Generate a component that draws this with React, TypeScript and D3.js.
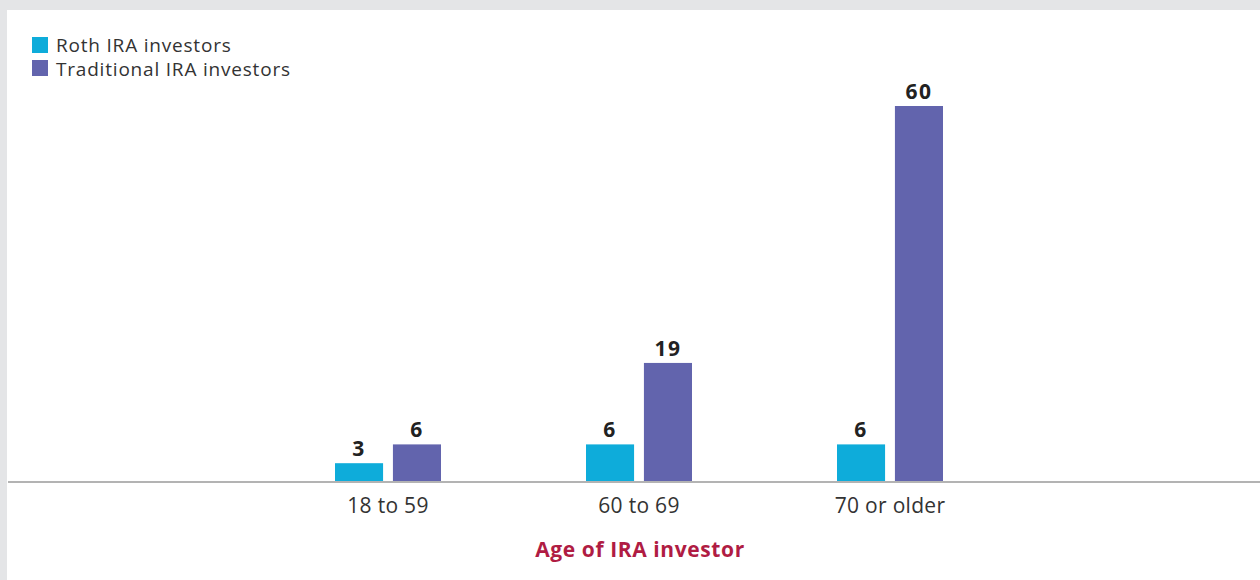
import React from "react";
import * as d3 from "d3";

const categories = ["18 to 59", "60 to 69", "70 or older"];
const seriesNames = ["Roth IRA investors", "Traditional IRA investors"];
const rothValues = [3, 6, 6];
const traditionalValues = [6, 19, 60];
const colors = ["#0eacda", "#6264ad"];
const axisTitle = "Age of IRA investor";

const W = 1260;
const H = 580;
const FONT = "'Open Sans', sans-serif";

export default function App() {
  const baseline = 482;
  const y = d3.scaleLinear().domain([0, 60]).range([baseline, 106]);
  const x0 = d3.scaleBand<string>().domain(categories).range([262.5, 1015.5]).padding(0);
  const x1 = d3.scaleBand<string>().domain(seriesNames).range([0, 106]).paddingInner(0.17);
  const groupOffset = (x0.bandwidth() - 106) / 2;
  const seriesValues = [rothValues, traditionalValues];

  return (
    <svg
      width={W}
      height={H}
      style={{ position: "absolute", left: 0, top: 0, display: "block" }}
      xmlns="http://www.w3.org/2000/svg"
    >
      <rect x={0} y={0} width={W} height={H} fill="#e4e5e7" />
      <rect x={7} y={10} width={W - 7} height={H - 10} fill="#ffffff" />

      {/* legend */}
      {seriesNames.map((s, i) => (
        <g key={s}>
          <rect x={32} y={37 + i * 23} width={16} height={16} fill={colors[i]} />
          <text x={56} y={51.5 + i * 24} fontFamily={FONT} fontSize={19} fill="#333" letterSpacing={0.8}>
            {s}
          </text>
        </g>
      ))}

      {/* bars */}
      {categories.map((c, ci) => (
        <g key={c} transform={`translate(${(x0(c) ?? 0) + groupOffset},0)`}>
          {seriesNames.map((s, si) => {
            const v = seriesValues[si][ci];
            const bx = x1(s) ?? 0;
            return (
              <g key={s}>
                <rect x={bx} y={y(v)} width={x1.bandwidth()} height={baseline - y(v)} fill={colors[si]} />
                <text
                  x={bx + x1.bandwidth() / 2}
                  y={y(v) - 7}
                  textAnchor="middle"
                  fontFamily={FONT}
                  fontWeight={700}
                  fontSize={21}
                  fill="#222"
                  letterSpacing={1.5}
                >
                  {v}
                </text>
              </g>
            );
          })}
        </g>
      ))}

      {/* baseline */}
      <line x1={8} x2={W} y1={baseline} y2={baseline} stroke="#b3b3b3" strokeWidth={2} />

      {/* category labels */}
      {categories.map((c) => (
        <text
          key={c}
          x={(x0(c) ?? 0) + x0.bandwidth() / 2}
          y={513}
          textAnchor="middle"
          fontFamily={FONT}
          fontSize={21}
          fill="#333"
          letterSpacing={0.3}
        >
          {c}
        </text>
      ))}

      <text
        x={640}
        y={557}
        textAnchor="middle"
        fontFamily={FONT}
        fontWeight={700}
        fontSize={21}
        fill="#b01c43"
        letterSpacing={0.6}
      >
        {axisTitle}
      </text>
    </svg>
  );
}
